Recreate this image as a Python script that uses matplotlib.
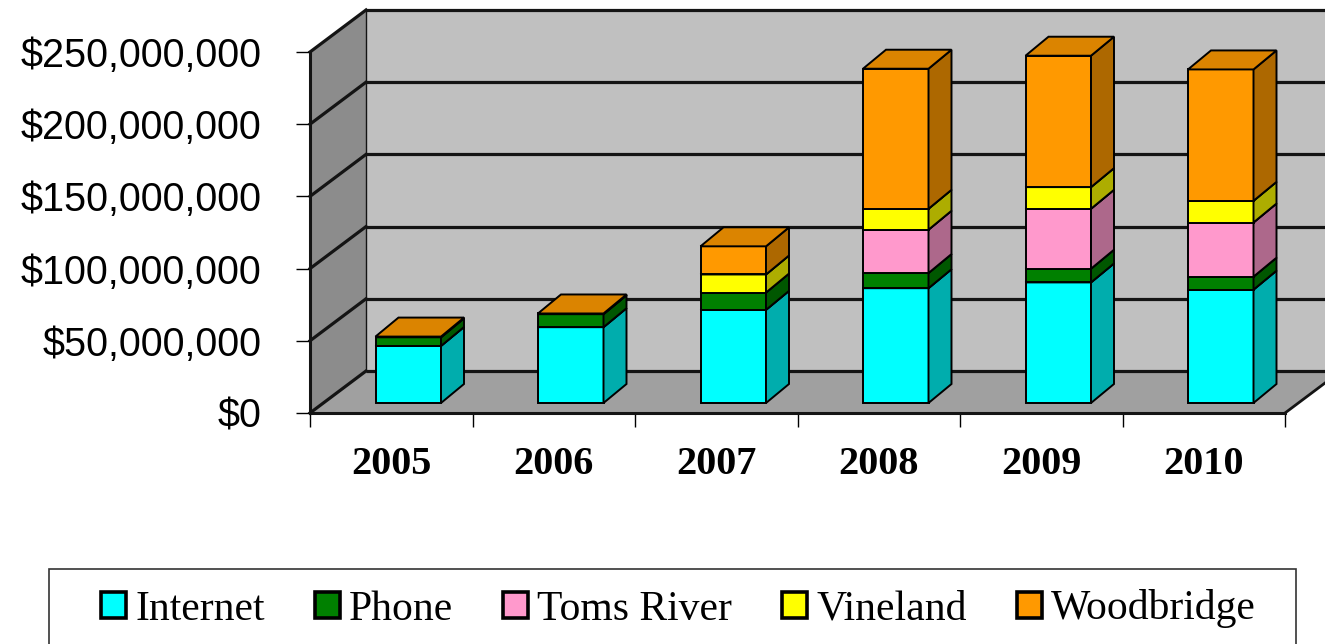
import matplotlib
matplotlib.use("Agg")
import matplotlib.pyplot as plt
import numpy as np
from matplotlib.patches import Polygon, Rectangle, Patch
from matplotlib.colors import to_rgb
from matplotlib.ticker import FuncFormatter, FixedLocator

# ---------------- data (dollars, millions) ----------------
years = ["2005", "2006", "2007", "2008", "2009", "2010"]
series_names = ["Internet", "Phone", "Toms River", "Vineland", "Woodbridge"]
internet = [39.5, 52.5, 64.5, 79.5, 83.5, 78.5]
phone = [6.0, 9.0, 12.0, 10.5, 9.5, 9.0]
toms_river = [0.0, 0.0, 0.0, 30.0, 41.5, 37.5]
vineland = [0.0, 0.0, 12.5, 14.5, 15.0, 15.0]
woodbridge = [0.5, 0.5, 19.5, 97.0, 91.0, 91.0]
colors = ["#00FFFF", "#008000", "#FF99CC", "#FFFF00", "#FF9900"]
yticks = [0, 50e6, 100e6, 150e6, 200e6, 250e6]

series = [internet, phone, toms_river, vineland, woodbridge]

# ---------------- figure / axes ----------------
W, H = 1325, 644
fig = plt.figure(figsize=(W / 100, H / 100), dpi=100)
fig.patch.set_facecolor("white")
ax = fig.add_axes([310 / W, 1 - 413 / H, (1285 - 310) / W, (413 - 52) / H])
ax.set_xlim(0, 6)
ax.set_ylim(0, 250e6)
ax.patch.set_visible(False)

px_x = 6 / 975.0          # data units per pixel (x)
px_y = 250e6 / 361.0      # data units per pixel (y)

# 3D depth of the whole plot box
ddx = 56 * px_x
ddy = 42 * px_y
xr = 6.6  # walls continue past the right edge of the picture

wall_col = "#C0C0C0"
side_wall_col = "#8C8C8C"
floor_col = "#A0A0A0"
grid_col = "#141414"

# back wall
ax.add_patch(Polygon([(ddx, ddy), (xr, ddy), (xr, 250e6 + ddy), (ddx, 250e6 + ddy)],
                     closed=True, facecolor=wall_col, edgecolor="none", zorder=0.5, clip_on=False))
# left wall
ax.add_patch(Polygon([(0, 0), (ddx, ddy), (ddx, 250e6 + ddy), (0, 250e6)],
                     closed=True, facecolor=side_wall_col, edgecolor="none", zorder=0.5, clip_on=False))
# floor
ax.add_patch(Polygon([(0, 0), (6, 0), (6 + ddx, ddy), (ddx, ddy)],
                     closed=True, facecolor=floor_col, edgecolor="none", zorder=0.55, clip_on=False))
ax.plot([6, 6 + ddx], [0, ddy], color=grid_col, lw=2.0, zorder=0.7, clip_on=False)
ax.plot([ddx, ddx], [ddy, 250e6 + ddy], color=grid_col, lw=1.0, zorder=0.7, clip_on=False)

# gridlines (back wall + left wall)
for v in yticks:
    ax.plot([ddx, xr], [v + ddy, v + ddy], color=grid_col, lw=2.3, zorder=0.6, clip_on=False,
            solid_capstyle="butt")
    ax.plot([0, ddx], [v, v + ddy], color=grid_col, lw=2.3, zorder=0.6, clip_on=False)

# ---------------- 3D stacked bars ----------------
bw = 65.5 * px_x
fx = 17 * px_x              # front face shift (x)
fy = 10 * px_y              # front face shift (y)
bdx = 23 * px_x             # bar depth (x)
bdy = 19 * px_y             # bar depth (y)


def shade(c, f):
    r, g, b = to_rgb(c)
    return (r * f, g * f, b * f)


xc = np.arange(len(years)) + 0.5 + fx
cum = np.zeros(len(years))
edge_kw = dict(edgecolor="black", linewidth=1.4)
for k, (vals, col) in enumerate(zip(series, colors)):
    vals_d = np.array(vals) * 1e6
    mask = vals_d > 0
    bottoms = fy + cum
    bars = ax.bar(xc[mask], vals_d[mask], width=bw, bottom=bottoms[mask], color=col,
                  zorder=3 + k, **edge_kw)
    for b in bars:
        b.set_clip_on(False)
    for i in np.where(mask)[0]:
        x0 = xc[i] - bw / 2
        x1 = xc[i] + bw / 2
        y0 = bottoms[i]
        y1 = bottoms[i] + vals_d[i]
        # side face
        ax.add_patch(Polygon([(x1, y0), (x1 + bdx, y0 + bdy), (x1 + bdx, y1 + bdy), (x1, y1)],
                             closed=True, facecolor=shade(col, 0.68), zorder=3 + k,
                             clip_on=False, **edge_kw))
        # top face
        ax.add_patch(Polygon([(x0, y1), (x1, y1), (x1 + bdx, y1 + bdy), (x0 + bdx, y1 + bdy)],
                             closed=True, facecolor=shade(col, 0.86), zorder=3 + k,
                             clip_on=False, **edge_kw))
    cum = cum + vals_d

# ---------------- axes styling ----------------
for s in ["top", "right"]:
    ax.spines[s].set_visible(False)
for s in ["left", "bottom"]:
    ax.spines[s].set_color("#141414")
    ax.spines[s].set_linewidth(2.2)
    ax.spines[s].set_zorder(2)

ax.yaxis.set_major_locator(FixedLocator(yticks))
ax.yaxis.set_major_formatter(FuncFormatter(lambda v, p: "${:,.0f}".format(v)))
ax.tick_params(axis="y", direction="out", length=10, width=1.0, pad=25, labelsize=28.5,
               colors="black")
for lab in ax.get_yticklabels():
    lab.set_fontfamily("Liberation Sans")

ax.set_xticks(np.arange(0, 7))
ax.set_xticklabels([])
ax.set_xticks(np.arange(len(years)) + 0.5, minor=True)
ax.set_xticklabels(years, minor=True, fontfamily="Liberation Serif", fontweight="bold",
                   fontsize=29)
ax.tick_params(axis="x", which="major", direction="out", length=10, width=1.0)
ax.tick_params(axis="x", which="minor", length=0, pad=24)

# ---------------- legend ----------------
fig.patches.append(Rectangle((49 / W, -0.1), (1296 - 49) / W, (644 - 569) / H + 0.1,
                             transform=fig.transFigure, facecolor="white",
                             edgecolor="#333333", linewidth=1.2, zorder=0))
handles = [Patch(facecolor=c, edgecolor="black", linewidth=2.6) for c in colors]
fig.legend(handles, series_names, loc="center", bbox_to_anchor=(678.5 / W, 1 - 609 / H),
           ncol=5, frameon=False, prop={"family": "Liberation Serif", "size": 30},
           handlelength=0.6, handleheight=0.6, handletextpad=0.22, columnspacing=1.2,
           borderpad=0, borderaxespad=0)

fig.savefig("out.png", dpi=100)
